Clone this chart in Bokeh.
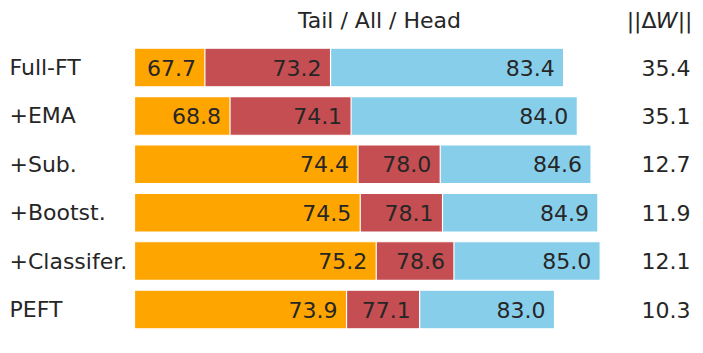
from bokeh.plotting import figure, ColumnDataSource
from bokeh.models import Range1d
from bokeh.core.properties import value
from bokeh.embed import file_html
from bokeh.resources import INLINE

methods = ["Full-FT", "+EMA", "+Sub.", "+Bootst.", "+Classifer.", "PEFT"]
tail = [67.7, 68.8, 74.4, 74.5, 75.2, 73.9]
all_ = [73.2, 74.1, 78.0, 78.1, 78.6, 77.1]
head = [83.4, 84.0, 84.6, 84.9, 85.0, 83.0]
delta_w = [35.4, 35.1, 12.7, 11.9, 12.1, 10.3]
title_text = "Tail / All / Head"

BASE = 64.62          # value at which bars start
PXU = 22.85           # pixels per value unit
W, H = 700, 350
OFF = 1               # observed page offset of the canvas


def vx(page_x):
    return BASE + (page_x - 135) / PXU


ROW = 48.4


def vy(page_y):
    return (page_y - 68) / ROW


rows = list(range(len(methods)))
src = ColumnDataSource(dict(y=rows, m=methods, tail=tail, all=all_, head=head,
                            base=[BASE] * len(rows),
                            tail_s=[f"{v:.1f}" for v in tail],
                            all_s=[f"{v:.1f}" for v in all_],
                            head_s=[f"{v:.1f}" for v in head],
                            dw_s=[f"{v:.1f}" for v in delta_w],
                            lx=[vx(10)] * len(rows),
                            rx=[vx(691)] * len(rows)))

p = figure(width=W, height=H, output_backend="svg", toolbar_location=None,
           x_range=Range1d(vx(OFF), vx(OFF + W)),
           y_range=Range1d(vy(OFF + H), vy(OFF)),
           x_axis_location=None, y_axis_location=None, min_border=0,
           outline_line_color=None, background_fill_color="white",
           border_fill_color="white")
p.grid.visible = False

FONT = value("DejaVu Sans")
FS = "22px"
TC = "#262626"

for col, color in [("head", "#87CEEB"), ("all", "#C44E52"), ("tail", "#FFA500")]:
    p.hbar(y="y", left="base", right=col, height=0.8, source=src,
           fill_color=color, line_color="white", line_width=1.2)

for col in ["tail", "all", "head"]:
    p.text(x=col, y="y", text=col + "_s", source=src, text_align="right",
           text_baseline="middle", x_offset=-9, text_font=FONT,
           text_font_size=FS, text_color=TC)

p.text(x="lx", y="y", text="m", source=src, text_align="left",
       text_baseline="middle", text_font=FONT, text_font_size=FS, text_color=TC)
p.text(x="rx", y="y", text="dw_s", source=src, text_align="right",
       text_baseline="middle", text_font=FONT, text_font_size=FS, text_color=TC)

# header texts
p.text(x=[vx(380)], y=[vy(21)], text=[title_text], text_align="center",
       text_baseline="middle", text_font=FONT, text_font_size=FS, text_color=TC)
p.text(x=[vx(693)], y=[vy(21)], text=["||"], text_align="right",
       text_baseline="middle", text_font=FONT, text_font_size=FS, text_color=TC)
p.text(x=[vx(678)], y=[vy(21)], text=["W"], text_align="right",
       text_baseline="middle", text_font=FONT, text_font_size=FS,
       text_font_style="italic", text_color=TC)
p.text(x=[vx(657)], y=[vy(21)], text=["||Δ"], text_align="right",
       text_baseline="middle", text_font=FONT, text_font_size=FS, text_color=TC)

open("out.html", "w").write(file_html(p, INLINE))
